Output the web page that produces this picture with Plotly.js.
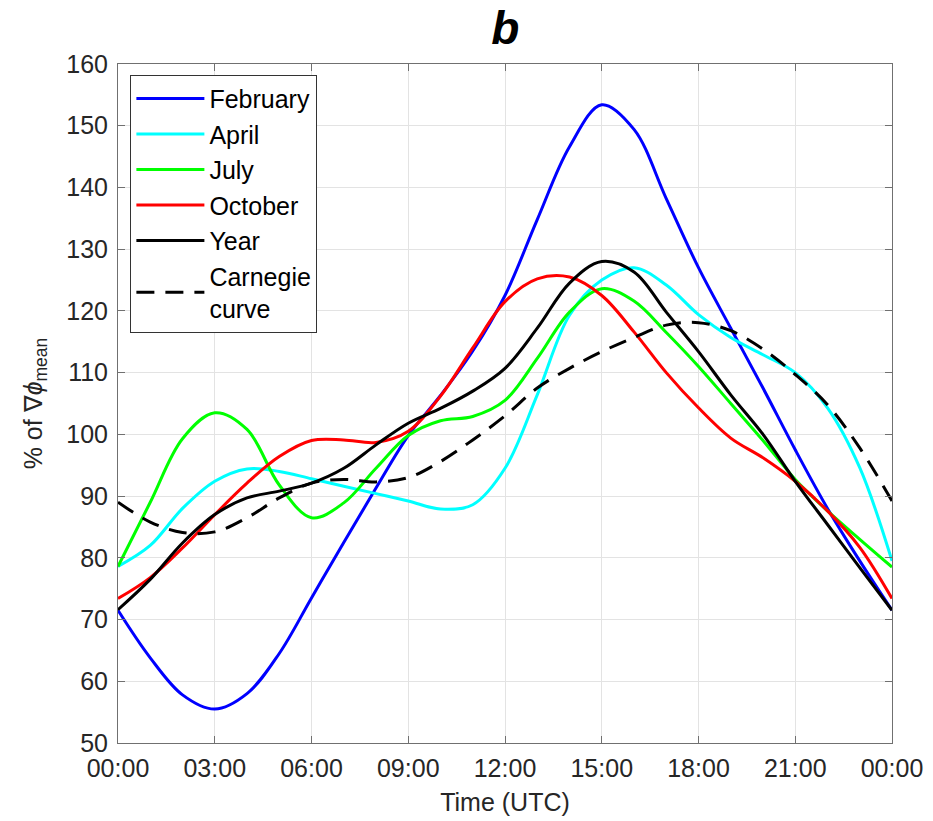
<!DOCTYPE html>
<html>
<head>
<meta charset="utf-8">
<script src="https://cdn.plot.ly/plotly-3.0.1.min.js"></script>
<style>html,body{margin:0;padding:0;background:#fff;}#chart{width:933px;height:821px;}</style>
</head>
<body>
<div id="chart"></div>
<script>
// Hours (UTC) 0..24
const hours = [0,1,2,3,4,5,6,7,8,9,10,11,12,13,14,15,16,17,18,19,20,21,22,23,24];
const tickHours = [0,3,6,9,12,15,18,21,24];
const tickLabels = ['00:00','03:00','06:00','09:00','12:00','15:00','18:00','21:00','00:00'];

const february = [71.5,63.8,57.8,55.5,58,64.5,73.5,82.5,91.3,99.8,106.3,113.5,122.5,134.8,146.6,153.4,149.4,138.2,127,117.2,107.5,97.5,88,79.5,71.5];
const april    = [78.6,82,88,92.4,94.4,94,92.8,91.6,90.4,89.2,87.9,88.6,94.5,106.4,119.3,125,127,124.2,119.4,115.7,112.9,110,104.3,94.6,79.5];
const july     = [78.6,89,99.3,103.5,100.8,91.8,86.5,88.9,94.5,99.8,102.2,102.9,105.5,112.3,119.8,123.6,121.6,116.5,111,105,99,92.7,87.6,83,78.5];
const october  = [73.4,76.8,81.6,87,92.1,96.4,99,99.1,98.7,100.5,106.2,114,121.5,125.2,125.5,122.5,116.6,110,104.3,99.4,96.2,92.4,87.6,81.7,73.4];
const year     = [71.6,76.5,82.4,87,89.7,90.8,92.1,94.5,98.3,101.8,104.2,107,110.7,117.2,124.5,128,126.3,119.8,113.4,106.4,100,92.4,85.4,78.4,71.5];
const carnegie = [89,85.8,84.1,84.2,86.5,89.7,92.1,92.7,92.3,93,95.6,99.1,103,107.5,110.7,113.4,115.7,117.7,118.1,116.8,113.8,109.7,104.8,97.8,89.2];

const seriesNames = ['February','April','July','October','Year','Carnegie<br>curve'];
const seriesData = [february, april, july, october, year, carnegie];
const seriesColors = ['#0000ff','#00ffff','#00ff00','#ff0000','#000000','#000000'];
const seriesDash = ['solid','solid','solid','solid','solid','18px,11px'];

const font = 'Arial, "Liberation Sans", Helvetica, sans-serif';

const traces = seriesData.map((ys, i) => ({
  x: hours, y: ys, name: seriesNames[i], type: 'scatter', mode: 'lines',
  line: {color: seriesColors[i], width: 3, dash: seriesDash[i], shape: 'spline', smoothing: 1}
}));

const axisCommon = {
  showgrid: true, gridcolor: '#e3e3e3', gridwidth: 1,
  showline: true, linecolor: '#707070', linewidth: 1, mirror: 'ticks',
  ticks: 'inside', ticklen: 7, tickcolor: '#707070', tickwidth: 1,
  zeroline: false, tickfont: {family: font, size: 25, color: '#262626'}
};

const layout = {
  width: 933, height: 821,
  margin: {l: 118, r: 41, t: 64, b: 78},
  paper_bgcolor: '#ffffff', plot_bgcolor: '#ffffff',
  title: {text: '<b><i>b</i></b>', font: {family: font, size: 46, color: '#000'},
          x: 0.5415, xanchor: 'center', y: 0.966, yanchor: 'middle'},
  xaxis: Object.assign({}, axisCommon, {
    range: [0, 24], tickmode: 'array', tickvals: tickHours, ticktext: tickLabels,
    ticklabelstandoff: 3,
    title: {text: 'Time (UTC)', font: {family: font, size: 25, color: '#262626'}, standoff: 12}
  }),
  yaxis: Object.assign({}, axisCommon, {
    range: [50, 160], dtick: 10, tick0: 50, ticklabelstandoff: 4,
    title: {text: '% of \u2207<i>\u03d5</i><sub>mean</sub>', font: {family: font, size: 25, color: '#262626'}, standoff: 16}
  }),
  showlegend: true,
  legend: {x: 0.016, y: 0.984, xanchor: 'left', yanchor: 'top', itemwidth: 68,
           bgcolor: '#ffffff', bordercolor: '#333333', borderwidth: 1,
           font: {family: font, size: 25, color: '#000'}, tracegroupgap: 0}
};

Plotly.newPlot('chart', traces, layout, {displayModeBar: false, staticPlot: true});
</script>
</body>
</html>
